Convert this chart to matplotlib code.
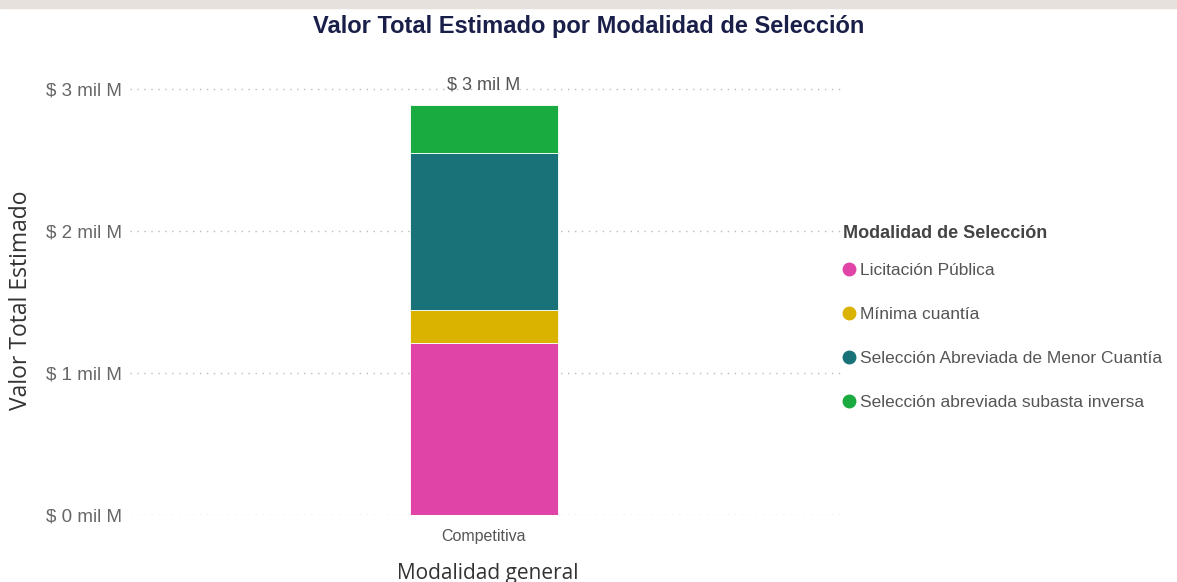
import matplotlib
matplotlib.use("Agg")
import matplotlib.pyplot as plt
from matplotlib.lines import Line2D
from matplotlib import font_manager as fm

categories = ["Competitiva"]
series_names = ["Licitación Pública", "Mínima cuantía",
                "Selección Abreviada de Menor Cuantía", "Selección abreviada subasta inversa"]
series_values = [[1.21], [0.232], [1.106], [0.338]]  # mil M
colors = ["#E044A7", "#D9B300", "#197278", "#1AAB40"]
ytick_vals = [0, 1, 2, 3]
ytick_labels = ["$ 0 mil M", "$ 1 mil M", "$ 2 mil M", "$ 3 mil M"]

avail = {f.name for f in fm.fontManager.ttflist}
narrow = "Liberation Sans Narrow" if "Liberation Sans Narrow" in avail else "Liberation Sans"
plt.rcParams['font.family'] = [narrow, "DejaVu Sans"]

W, H = 1177, 582
fig = plt.figure(figsize=(W/100, H/100), dpi=100)
fig.patches.append(plt.Rectangle((0, 1 - 8/H), 1, 8/H, transform=fig.transFigure,
                                 color="#E6E1DD", zorder=0))
ax = fig.add_axes([130/W, 67/H, 715/W, (515-60.6)/H])

x = range(len(categories))
bottom = [0.0] * len(categories)
for name, vals, c in zip(series_names, series_values, colors):
    ax.bar(x, vals, bottom=bottom, width=0.207, color=c, edgecolor="white",
           linewidth=0.6, label=name, zorder=3)
    bottom = [b + v for b, v in zip(bottom, vals)]

for xi, tot in zip(x, bottom):
    ax.text(xi, tot + 0.08, f"$ {round(tot):d} mil M", ha="center", va="bottom",
            fontsize=13, color="#555555")

ax.set_xlim(-0.495, 0.505)
ax.set_ylim(0, 3.2)
ax.set_yticks(ytick_vals)
ax.set_yticklabels(ytick_labels, fontsize=13.5, color="#666666")
ax.set_xticks(list(x))
ax.set_xticklabels(categories, fontsize=11.5, color="#555555")
ax.tick_params(axis="y", length=0, pad=6)
ax.tick_params(axis="x", length=0, pad=10)
for s in ax.spines.values():
    s.set_visible(False)
ax.grid(axis="y", linestyle=(0, (1, 4)), color="#BBBBBB", linewidth=1, zorder=0)

fig.text(21/W, 1 - 300/H, "Valor Total Estimado", rotation=90, ha="center", va="center",
         fontsize=16.5, color="#333333", family=["Open Sans", "DejaVu Sans"])
ax.set_xlabel("Modalidad general", fontsize=15, color="#333333",
              family=["Open Sans", "DejaVu Sans"], labelpad=14)

fig.text(0.5, 1 - 26/H, "Valor Total Estimado por Modalidad de Selección",
         ha="center", va="center", fontsize=17, fontweight="bold", color="#1A1F4A")

fig.text(843/W, 1 - 233/H, "Modalidad de Selección", ha="left", va="center",
         fontsize=13, fontweight="bold", color="#444444")

handles = [Line2D([0], [0], marker="o", linestyle="", markersize=9,
                  markerfacecolor=c, markeredgecolor=c) for c in colors]
leg = fig.legend(handles, series_names, loc="upper left",
                 bbox_to_anchor=(843/W, 1 - 263/H), frameon=False,
                 fontsize=12.5, borderpad=0,
                 handletextpad=0.3, handlelength=0.7, labelspacing=1.66,
                 borderaxespad=0)
for t in leg.get_texts():
    t.set_color("#555555")

fig.savefig("out.png", dpi=100)
